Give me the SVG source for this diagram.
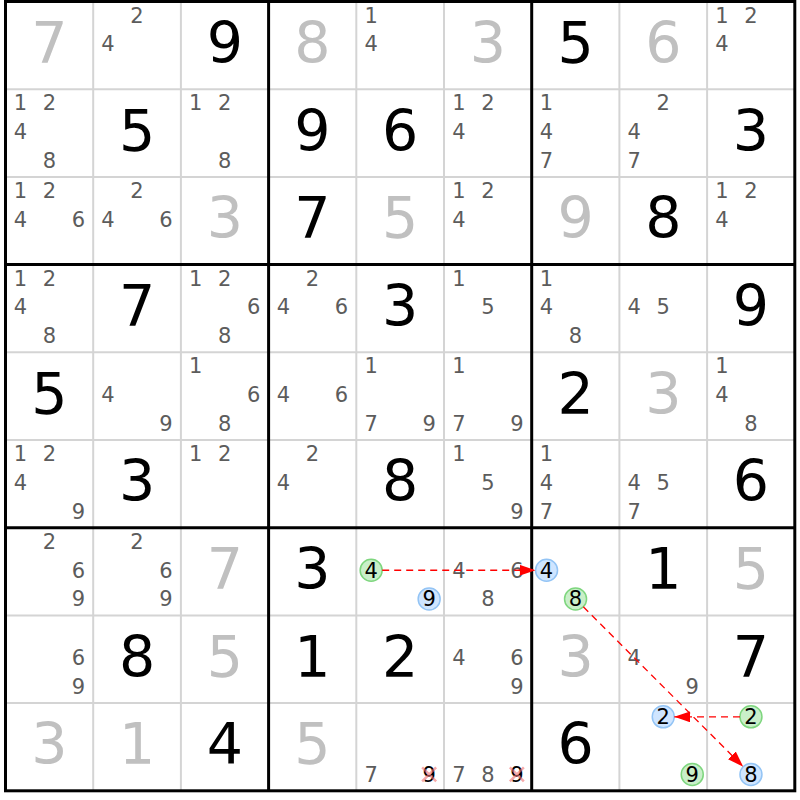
<svg xmlns="http://www.w3.org/2000/svg" width="800" height="800" viewBox="0 0 800 800">
<defs>
<style>
text{font-family:"DejaVu Sans","Verdana",sans-serif;text-anchor:middle}
.g{font-size:57px;fill:#000}
.s{font-size:57px;fill:#c0c0c0}
.p{font-size:21px;fill:#5c5c5c}
.pk{font-size:21px;fill:#000}
.thin{stroke:#d4d4d4;stroke-width:2}
.thick{stroke:#000;stroke-width:3}
.cg{fill:#c9efc9;stroke:#7ed67e;stroke-width:1.5}
.cb{fill:#cfe5ff;stroke:#93c4f5;stroke-width:1.5}
.x{stroke:#f07070;stroke-width:2.5;stroke-opacity:0.6}
.arr{stroke:#f00;stroke-width:1.3;stroke-dasharray:7,5;fill:none;marker-end:url(#ah)}
</style>
<marker id="ah" markerUnits="userSpaceOnUse" markerWidth="16" markerHeight="11" refX="16" refY="5.5" orient="auto">
<path d="M0,0 L16,5.5 L0,11 z" fill="#f00"/>
</marker>
</defs>
<rect x="0" y="0" width="800" height="800" fill="#fff"/>
<g id="grid">
<g class="thin">
<line x1="93.2" y1="1.5" x2="93.2" y2="790.8"/>
<line x1="180.9" y1="1.5" x2="180.9" y2="790.8"/>
<line x1="356.3" y1="1.5" x2="356.3" y2="790.8"/>
<line x1="444.0" y1="1.5" x2="444.0" y2="790.8"/>
<line x1="619.4" y1="1.5" x2="619.4" y2="790.8"/>
<line x1="707.1" y1="1.5" x2="707.1" y2="790.8"/>
<line x1="5.5" y1="89.2" x2="794.8" y2="89.2"/>
<line x1="5.5" y1="176.9" x2="794.8" y2="176.9"/>
<line x1="5.5" y1="352.3" x2="794.8" y2="352.3"/>
<line x1="5.5" y1="440.0" x2="794.8" y2="440.0"/>
<line x1="5.5" y1="615.4" x2="794.8" y2="615.4"/>
<line x1="5.5" y1="703.1" x2="794.8" y2="703.1"/>
</g>
<g class="thick">
<line x1="268.6" y1="1.5" x2="268.6" y2="790.8"/>
<line x1="531.7" y1="1.5" x2="531.7" y2="790.8"/>
<line x1="5.5" y1="264.6" x2="794.8" y2="264.6"/>
<line x1="5.5" y1="527.7" x2="794.8" y2="527.7"/>
<rect x="5.5" y="1.5" width="789.3" height="789.3" fill="none"/>
</g>
</g>
<!-- row 0 -->
<g id="r0c0" transform="translate(49.35,45.35)"><text class="s" x="0" y="17.5">7</text></g>
<g id="r0c1" transform="translate(137.05,45.35)"><text class="p" x="0" y="-22.8">2</text><text class="p" x="-29" y="6">4</text></g>
<g id="r0c2" transform="translate(224.75,45.35)"><text class="g" x="0" y="17.5">9</text></g>
<g id="r0c3" transform="translate(312.45,45.35)"><text class="s" x="0" y="17.5">8</text></g>
<g id="r0c4" transform="translate(400.15,45.35)"><text class="p" x="-29" y="-22.8">1</text><text class="p" x="-29" y="6">4</text></g>
<g id="r0c5" transform="translate(487.85,45.35)"><text class="s" x="0" y="17.5">3</text></g>
<g id="r0c6" transform="translate(575.55,45.35)"><text class="g" x="0" y="17.5">5</text></g>
<g id="r0c7" transform="translate(663.25,45.35)"><text class="s" x="0" y="17.5">6</text></g>
<g id="r0c8" transform="translate(750.95,45.35)"><text class="p" x="-29" y="-22.8">1</text><text class="p" x="0" y="-22.8">2</text><text class="p" x="-29" y="6">4</text></g>
<!-- row 1 -->
<g id="r1c0" transform="translate(49.35,133.05)"><text class="p" x="-29" y="-22.8">1</text><text class="p" x="0" y="-22.8">2</text><text class="p" x="-29" y="6">4</text><text class="p" x="0" y="34.8">8</text></g>
<g id="r1c1" transform="translate(137.05,133.05)"><text class="g" x="0" y="17.5">5</text></g>
<g id="r1c2" transform="translate(224.75,133.05)"><text class="p" x="-29" y="-22.8">1</text><text class="p" x="0" y="-22.8">2</text><text class="p" x="0" y="34.8">8</text></g>
<g id="r1c3" transform="translate(312.45,133.05)"><text class="g" x="0" y="17.5">9</text></g>
<g id="r1c4" transform="translate(400.15,133.05)"><text class="g" x="0" y="17.5">6</text></g>
<g id="r1c5" transform="translate(487.85,133.05)"><text class="p" x="-29" y="-22.8">1</text><text class="p" x="0" y="-22.8">2</text><text class="p" x="-29" y="6">4</text></g>
<g id="r1c6" transform="translate(575.55,133.05)"><text class="p" x="-29" y="-22.8">1</text><text class="p" x="-29" y="6">4</text><text class="p" x="-29" y="34.8">7</text></g>
<g id="r1c7" transform="translate(663.25,133.05)"><text class="p" x="0" y="-22.8">2</text><text class="p" x="-29" y="6">4</text><text class="p" x="-29" y="34.8">7</text></g>
<g id="r1c8" transform="translate(750.95,133.05)"><text class="g" x="0" y="17.5">3</text></g>
<!-- row 2 -->
<g id="r2c0" transform="translate(49.35,220.75)"><text class="p" x="-29" y="-22.8">1</text><text class="p" x="0" y="-22.8">2</text><text class="p" x="-29" y="6">4</text><text class="p" x="29" y="6">6</text></g>
<g id="r2c1" transform="translate(137.05,220.75)"><text class="p" x="0" y="-22.8">2</text><text class="p" x="-29" y="6">4</text><text class="p" x="29" y="6">6</text></g>
<g id="r2c2" transform="translate(224.75,220.75)"><text class="s" x="0" y="17.5">3</text></g>
<g id="r2c3" transform="translate(312.45,220.75)"><text class="g" x="0" y="17.5">7</text></g>
<g id="r2c4" transform="translate(400.15,220.75)"><text class="s" x="0" y="17.5">5</text></g>
<g id="r2c5" transform="translate(487.85,220.75)"><text class="p" x="-29" y="-22.8">1</text><text class="p" x="0" y="-22.8">2</text><text class="p" x="-29" y="6">4</text></g>
<g id="r2c6" transform="translate(575.55,220.75)"><text class="s" x="0" y="17.5">9</text></g>
<g id="r2c7" transform="translate(663.25,220.75)"><text class="g" x="0" y="17.5">8</text></g>
<g id="r2c8" transform="translate(750.95,220.75)"><text class="p" x="-29" y="-22.8">1</text><text class="p" x="0" y="-22.8">2</text><text class="p" x="-29" y="6">4</text></g>
<!-- row 3 -->
<g id="r3c0" transform="translate(49.35,308.45)"><text class="p" x="-29" y="-22.8">1</text><text class="p" x="0" y="-22.8">2</text><text class="p" x="-29" y="6">4</text><text class="p" x="0" y="34.8">8</text></g>
<g id="r3c1" transform="translate(137.05,308.45)"><text class="g" x="0" y="17.5">7</text></g>
<g id="r3c2" transform="translate(224.75,308.45)"><text class="p" x="-29" y="-22.8">1</text><text class="p" x="0" y="-22.8">2</text><text class="p" x="29" y="6">6</text><text class="p" x="0" y="34.8">8</text></g>
<g id="r3c3" transform="translate(312.45,308.45)"><text class="p" x="0" y="-22.8">2</text><text class="p" x="-29" y="6">4</text><text class="p" x="29" y="6">6</text></g>
<g id="r3c4" transform="translate(400.15,308.45)"><text class="g" x="0" y="17.5">3</text></g>
<g id="r3c5" transform="translate(487.85,308.45)"><text class="p" x="-29" y="-22.8">1</text><text class="p" x="0" y="6">5</text></g>
<g id="r3c6" transform="translate(575.55,308.45)"><text class="p" x="-29" y="-22.8">1</text><text class="p" x="-29" y="6">4</text><text class="p" x="0" y="34.8">8</text></g>
<g id="r3c7" transform="translate(663.25,308.45)"><text class="p" x="-29" y="6">4</text><text class="p" x="0" y="6">5</text></g>
<g id="r3c8" transform="translate(750.95,308.45)"><text class="g" x="0" y="17.5">9</text></g>
<!-- row 4 -->
<g id="r4c0" transform="translate(49.35,396.15)"><text class="g" x="0" y="17.5">5</text></g>
<g id="r4c1" transform="translate(137.05,396.15)"><text class="p" x="-29" y="6">4</text><text class="p" x="29" y="34.8">9</text></g>
<g id="r4c2" transform="translate(224.75,396.15)"><text class="p" x="-29" y="-22.8">1</text><text class="p" x="29" y="6">6</text><text class="p" x="0" y="34.8">8</text></g>
<g id="r4c3" transform="translate(312.45,396.15)"><text class="p" x="-29" y="6">4</text><text class="p" x="29" y="6">6</text></g>
<g id="r4c4" transform="translate(400.15,396.15)"><text class="p" x="-29" y="-22.8">1</text><text class="p" x="-29" y="34.8">7</text><text class="p" x="29" y="34.8">9</text></g>
<g id="r4c5" transform="translate(487.85,396.15)"><text class="p" x="-29" y="-22.8">1</text><text class="p" x="-29" y="34.8">7</text><text class="p" x="29" y="34.8">9</text></g>
<g id="r4c6" transform="translate(575.55,396.15)"><text class="g" x="0" y="17.5">2</text></g>
<g id="r4c7" transform="translate(663.25,396.15)"><text class="s" x="0" y="17.5">3</text></g>
<g id="r4c8" transform="translate(750.95,396.15)"><text class="p" x="-29" y="-22.8">1</text><text class="p" x="-29" y="6">4</text><text class="p" x="0" y="34.8">8</text></g>
<!-- row 5 -->
<g id="r5c0" transform="translate(49.35,483.85)"><text class="p" x="-29" y="-22.8">1</text><text class="p" x="0" y="-22.8">2</text><text class="p" x="-29" y="6">4</text><text class="p" x="29" y="34.8">9</text></g>
<g id="r5c1" transform="translate(137.05,483.85)"><text class="g" x="0" y="17.5">3</text></g>
<g id="r5c2" transform="translate(224.75,483.85)"><text class="p" x="-29" y="-22.8">1</text><text class="p" x="0" y="-22.8">2</text></g>
<g id="r5c3" transform="translate(312.45,483.85)"><text class="p" x="0" y="-22.8">2</text><text class="p" x="-29" y="6">4</text></g>
<g id="r5c4" transform="translate(400.15,483.85)"><text class="g" x="0" y="17.5">8</text></g>
<g id="r5c5" transform="translate(487.85,483.85)"><text class="p" x="-29" y="-22.8">1</text><text class="p" x="0" y="6">5</text><text class="p" x="29" y="34.8">9</text></g>
<g id="r5c6" transform="translate(575.55,483.85)"><text class="p" x="-29" y="-22.8">1</text><text class="p" x="-29" y="6">4</text><text class="p" x="-29" y="34.8">7</text></g>
<g id="r5c7" transform="translate(663.25,483.85)"><text class="p" x="-29" y="6">4</text><text class="p" x="0" y="6">5</text><text class="p" x="-29" y="34.8">7</text></g>
<g id="r5c8" transform="translate(750.95,483.85)"><text class="g" x="0" y="17.5">6</text></g>
<!-- row 6 -->
<g id="r6c0" transform="translate(49.35,571.55)"><text class="p" x="0" y="-22.8">2</text><text class="p" x="29" y="6">6</text><text class="p" x="29" y="34.8">9</text></g>
<g id="r6c1" transform="translate(137.05,571.55)"><text class="p" x="0" y="-22.8">2</text><text class="p" x="29" y="6">6</text><text class="p" x="29" y="34.8">9</text></g>
<g id="r6c2" transform="translate(224.75,571.55)"><text class="s" x="0" y="17.5">7</text></g>
<g id="r6c3" transform="translate(312.45,571.55)"><text class="g" x="0" y="17.5">3</text></g>
<g id="r6c4" transform="translate(400.15,571.55)"><circle class="cg" cx="-29" cy="-1.3" r="11"/><text class="pk" x="-29" y="6">4</text><circle class="cb" cx="29" cy="27.5" r="11"/><text class="pk" x="29" y="34.8">9</text></g>
<g id="r6c5" transform="translate(487.85,571.55)"><text class="p" x="-29" y="6">4</text><text class="p" x="29" y="6">6</text><text class="p" x="0" y="34.8">8</text></g>
<g id="r6c6" transform="translate(575.55,571.55)"><circle class="cb" cx="-29" cy="-1.3" r="11"/><text class="pk" x="-29" y="6">4</text><circle class="cg" cx="0" cy="27.5" r="11"/><text class="pk" x="0" y="34.8">8</text></g>
<g id="r6c7" transform="translate(663.25,571.55)"><text class="g" x="0" y="17.5">1</text></g>
<g id="r6c8" transform="translate(750.95,571.55)"><text class="s" x="0" y="17.5">5</text></g>
<!-- row 7 -->
<g id="r7c0" transform="translate(49.35,659.25)"><text class="p" x="29" y="6">6</text><text class="p" x="29" y="34.8">9</text></g>
<g id="r7c1" transform="translate(137.05,659.25)"><text class="g" x="0" y="17.5">8</text></g>
<g id="r7c2" transform="translate(224.75,659.25)"><text class="s" x="0" y="17.5">5</text></g>
<g id="r7c3" transform="translate(312.45,659.25)"><text class="g" x="0" y="17.5">1</text></g>
<g id="r7c4" transform="translate(400.15,659.25)"><text class="g" x="0" y="17.5">2</text></g>
<g id="r7c5" transform="translate(487.85,659.25)"><text class="p" x="-29" y="6">4</text><text class="p" x="29" y="6">6</text><text class="p" x="29" y="34.8">9</text></g>
<g id="r7c6" transform="translate(575.55,659.25)"><text class="s" x="0" y="17.5">3</text></g>
<g id="r7c7" transform="translate(663.25,659.25)"><text class="p" x="-29" y="6">4</text><text class="p" x="29" y="34.8">9</text></g>
<g id="r7c8" transform="translate(750.95,659.25)"><text class="g" x="0" y="17.5">7</text></g>
<!-- row 8 -->
<g id="r8c0" transform="translate(49.35,746.95)"><text class="s" x="0" y="17.5">3</text></g>
<g id="r8c1" transform="translate(137.05,746.95)"><text class="s" x="0" y="17.5">1</text></g>
<g id="r8c2" transform="translate(224.75,746.95)"><text class="g" x="0" y="17.5">4</text></g>
<g id="r8c3" transform="translate(312.45,746.95)"><text class="s" x="0" y="17.5">5</text></g>
<g id="r8c4" transform="translate(400.15,746.95)"><text class="p" x="-29" y="34.8">7</text><text class="pk" x="29" y="34.8">9</text><path class="x" d="M22,20.5 L36,34.5 M36,20.5 L22,34.5"/></g>
<g id="r8c5" transform="translate(487.85,746.95)"><text class="p" x="-29" y="34.8">7</text><text class="p" x="0" y="34.8">8</text><text class="pk" x="29" y="34.8">9</text><path class="x" d="M22,20.5 L36,34.5 M36,20.5 L22,34.5"/></g>
<g id="r8c6" transform="translate(575.55,746.95)"><text class="g" x="0" y="17.5">6</text></g>
<g id="r8c7" transform="translate(663.25,746.95)"><circle class="cb" cx="0" cy="-30.1" r="11"/><text class="pk" x="0" y="-22.8">2</text><circle class="cg" cx="29" cy="27.5" r="11"/><text class="pk" x="29" y="34.8">9</text></g>
<g id="r8c8" transform="translate(750.95,746.95)"><circle class="cg" cx="0" cy="-30.1" r="11"/><text class="pk" x="0" y="-22.8">2</text><circle class="cb" cx="0" cy="27.5" r="11"/><text class="pk" x="0" y="34.8">8</text></g>
<g id="connectors">
<line class="arr" x1="382.2" y1="570.25" x2="535.5" y2="570.25"/>
<line class="arr" x1="583.3" y1="606.8" x2="743.2" y2="766.7"/>
<line class="arr" x1="740" y1="716.85" x2="674.3" y2="716.85"/>
</g>
</svg>
